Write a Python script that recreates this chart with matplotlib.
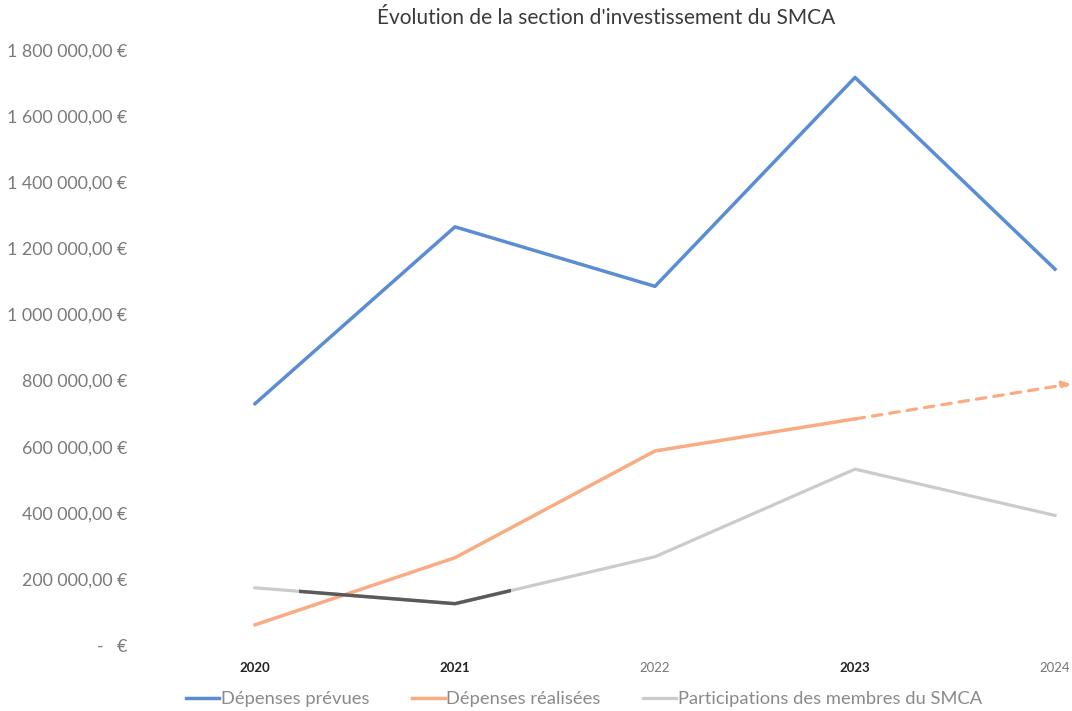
import matplotlib
matplotlib.use("Agg")
from matplotlib import pyplot as plt
from matplotlib.patches import Rectangle

years = [2020, 2021, 2022, 2023, 2024]
depenses_prevues = [730000, 1265000, 1085000, 1717000, 1137000]
depenses_realisees = [61000, 264000, 587000, 684000]
projection_2024 = 790000
participations = [173000, 125000, 267000, 532000, 392000]
yticks = [0, 200000, 400000, 600000, 800000, 1000000, 1200000, 1400000, 1600000, 1800000]

def euro(v):
    if v == 0:
        return "-   €"
    s = f"{v:,.2f}".replace(",", " ").replace(".", ",")
    return s + " €"

plt.rcParams['font.family'] = ['Lato', 'DejaVu Sans']

fig = plt.figure(figsize=(10.72, 7.11), dpi=100)
ax = fig.add_axes([155 / 1072, 1 - 645 / 711, 917 / 1072, 595 / 711])

blue = '#5a8dd3'
orange = '#f9ab82'
gray = '#cbcbcb'

ax.plot(years, depenses_prevues, color=blue, lw=2.5, label="Dépenses prévues", clip_on=False)
ax.plot(years[:4], depenses_realisees, color=orange, lw=2.5, label="Dépenses réalisées", clip_on=False)
ax.plot(years, participations, color=gray, lw=2.3, label="Participations des membres du SMCA", clip_on=False)

# darker overlay on part of the participations line (as in the scan)
dark, = ax.plot(years, participations, color='#5a5a5a', lw=2.5)
clip = Rectangle((2020.22, 0), 1.06, 1800000, transform=ax.transData)
dark.set_clip_path(clip)

# dashed projection of realised spending
ax.annotate("", xy=(years[4] + 0.08, projection_2024), xytext=(years[3], depenses_realisees[3]),
            arrowprops=dict(arrowstyle='-|>', color=orange, lw=2.3, linestyle=(0, (3, 2.5)),
                            mutation_scale=12, shrinkA=0, shrinkB=0),
            annotation_clip=False)

ax.set_xlim(2019.5, 2024.085)
ax.set_ylim(0, 1800000)
ax.set_yticks(yticks)
ax.set_yticklabels([euro(v) for v in yticks])
ax.set_xticks(years)
ax.set_xticklabels([str(y) for y in years])

for sp in ax.spines.values():
    sp.set_visible(False)
ax.tick_params(axis='both', length=0)
ax.tick_params(axis='y', pad=20, labelsize=12.8, labelcolor='#7a7a7a')
ax.tick_params(axis='x', pad=12, labelsize=9.5)
xcolors = ['#222222', '#222222', '#777777', '#222222', '#777777']
for lab, c in zip(ax.get_xticklabels(), xcolors):
    lab.set_color(c)
    lab.set_fontweight('bold' if c == '#222222' else 'normal')

fig.text(606 / 1072, 1 - 18 / 711, "Évolution de la section d'investissement du SMCA",
         ha='center', va='center', fontsize=15, color='#3a3a3a')

leg = fig.legend(loc='center', bbox_to_anchor=(584 / 1072, 1 - 699 / 711), ncol=3, frameon=False,
                 fontsize=13.2, handlelength=1.8, handletextpad=0.1, columnspacing=2.3)
for t in leg.get_texts():
    t.set_color('#8a8a8a')

fig.savefig("out.png", dpi=100)
